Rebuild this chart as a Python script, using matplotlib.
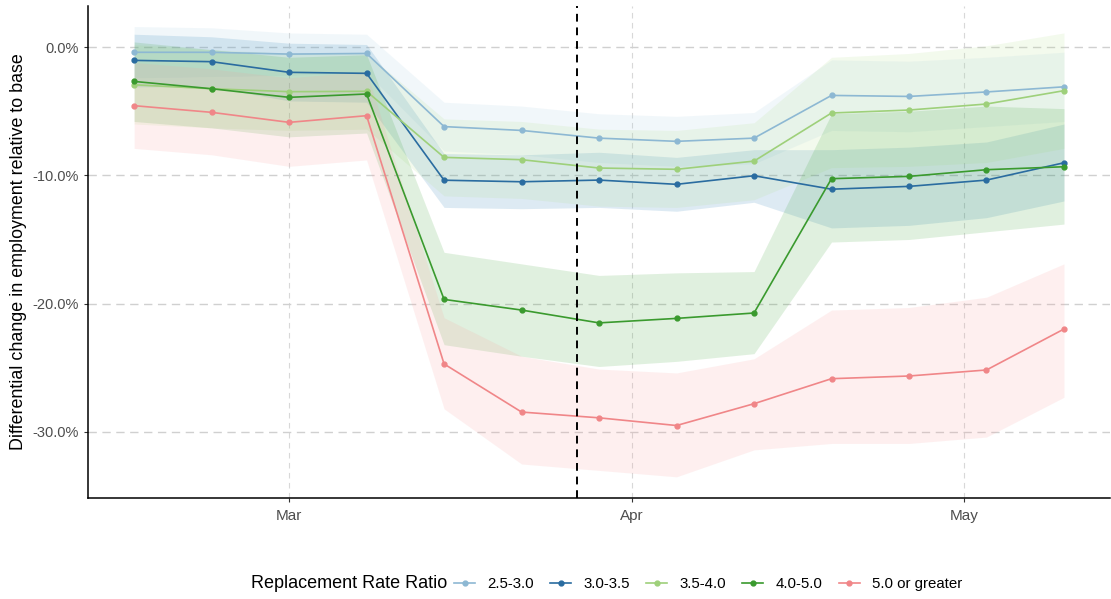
import matplotlib
matplotlib.use("Agg")
import matplotlib.pyplot as plt
import matplotlib.dates as mdates
import numpy as np
import pandas as pd
from matplotlib.lines import Line2D

plt.rcParams["font.family"] = ["Liberation Sans", "DejaVu Sans"]

weeks = pd.to_datetime([
    "2020-02-16", "2020-02-23", "2020-03-01", "2020-03-08", "2020-03-15",
    "2020-03-22", "2020-03-29", "2020-04-05", "2020-04-12", "2020-04-19",
    "2020-04-26", "2020-05-03", "2020-05-10",
])
cares_act = pd.Timestamp("2020-03-27")

groups = ["2.5-3.0", "3.0-3.5", "3.5-4.0", "4.0-5.0", "5.0 or greater"]

# point estimates (%)
est_25 = [-0.41, -0.41, -0.55, -0.50, -6.2, -6.5, -7.1, -7.35, -7.1, -3.77, -3.85, -3.5, -3.1]
est_30 = [-1.04, -1.14, -1.97, -2.05, -10.38, -10.5, -10.37, -10.7, -10.03, -11.08, -10.86, -10.37, -9.02]
est_35 = [-2.94, -3.25, -3.48, -3.45, -8.6, -8.78, -9.43, -9.53, -8.89, -5.14, -4.91, -4.44, -3.4]
est_40 = [-2.68, -3.25, -3.92, -3.66, -19.67, -20.5, -21.5, -21.15, -20.73, -10.26, -10.08, -9.56, -9.33]
est_50 = [-4.57, -5.09, -5.87, -5.35, -24.7, -28.45, -28.9, -29.5, -27.8, -25.85, -25.64, -25.17, -21.98]

# confidence bands (%)
hi_25 = [1.6, 1.5, 1.1, 1.0, -4.3, -4.6, -5.2, -5.4, -5.1, -1.0, -1.1, -0.8, -0.4]
lo_25 = [-2.4, -2.3, -2.2, -2.0, -8.1, -8.4, -9.0, -9.3, -9.1, -6.5, -6.6, -6.2, -5.8]
hi_30 = [1.0, 0.8, 0.3, 0.2, -8.3, -8.4, -8.2, -8.6, -8.0, -8.0, -7.8, -7.4, -6.0]
lo_30 = [-3.1, -3.1, -4.2, -4.3, -12.5, -12.6, -12.5, -12.8, -12.1, -14.1, -13.9, -13.3, -12.0]
hi_35 = [0.2, -0.2, -0.5, -0.5, -5.6, -5.8, -6.4, -6.5, -5.9, -0.8, -0.5, 0.1, 1.1]
lo_35 = [-6.0, -6.3, -6.5, -6.4, -11.6, -11.8, -12.4, -12.5, -11.9, -9.4, -9.3, -9.0, -7.9]
hi_40 = [0.4, -0.2, -0.8, -0.6, -16.0, -16.9, -17.8, -17.6, -17.5, -5.2, -5.0, -4.6, -4.8]
lo_40 = [-5.8, -6.3, -7.0, -6.7, -23.2, -24.1, -24.9, -24.5, -23.9, -15.2, -15.0, -14.4, -13.8]
hi_50 = [-1.2, -1.7, -2.4, -1.9, -21.1, -24.1, -25.1, -25.4, -24.3, -20.5, -20.3, -19.5, -16.9]
lo_50 = [-7.9, -8.4, -9.3, -8.8, -28.2, -32.5, -33.0, -33.5, -31.4, -30.9, -30.9, -30.4, -27.3]

estimates = [est_25, est_30, est_35, est_40, est_50]
uppers = [hi_25, hi_30, hi_35, hi_40, hi_50]
lowers = [lo_25, lo_30, lo_35, lo_40, lo_50]

line_colors = ["#8DB8D3", "#2A6CA0", "#9ED07A", "#3A9A2E", "#F08688"]
fill_colors = ["#A6CEE3", "#1F78B4", "#B2DF8A", "#33A02C", "#FB9A99"]

fig = plt.figure(figsize=(11.11, 5.99), dpi=100)
ax = fig.add_axes([0.0792, 0.1686, 0.92, 0.8214])

for lo, hi, fc in zip(lowers, uppers, fill_colors):
    ax.fill_between(weeks, lo, hi, color=fc, alpha=0.15, linewidth=0)

for est, lc in zip(estimates, line_colors):
    ax.plot(weeks, est, color=lc, linewidth=1.2, marker="o", markersize=3.5)

ax.axvline(cares_act, color="black", linestyle=(0, (4, 3)), linewidth=1.4)

ax.set_xlim(pd.Timestamp("2020-02-11 20:00"), pd.Timestamp("2020-05-14 04:00"))
ax.set_ylim(-35.15, 3.2)

ax.xaxis.set_major_locator(mdates.MonthLocator(bymonthday=1))
ax.xaxis.set_major_formatter(mdates.DateFormatter("%b"))
ax.set_yticks([0, -10, -20, -30])
ax.set_yticklabels(["0.0%", "-10.0%", "-20.0%", "-30.0%"])

ax.grid(True, axis="y", color="#D0D0D0", linestyle=(0, (6, 4)), linewidth=1.0)
ax.grid(True, axis="x", color="#D8D8D8", linestyle=(0, (5, 4)), linewidth=0.8)
ax.set_axisbelow(True)

for side in ["top", "right"]:
    ax.spines[side].set_visible(False)
for side in ["left", "bottom"]:
    ax.spines[side].set_linewidth(1.1)
    ax.spines[side].set_color("black")

ax.tick_params(axis="both", colors="#333333", labelcolor="#4D4D4D", labelsize=10.5, length=3, width=0.8)
ax.tick_params(axis="x", labelsize=11, pad=5)
ax.set_ylabel("Differential change in employment relative to base", fontsize=12.9, color="black", labelpad=4)

handles = [Line2D([0], [0], color=lc, linewidth=1.2, marker="o", markersize=3.5) for lc in line_colors]
fig.text(251 / 1111, 1 - 584 / 599, "Replacement Rate Ratio", fontsize=13, ha="left", va="center")
fig.legend(handles, groups, loc="center left", bbox_to_anchor=(454 / 1111, 1 - 584 / 599),
           ncol=5, frameon=False, fontsize=10.8, handlelength=1.4, handletextpad=0.8,
           columnspacing=1.1, borderpad=0, borderaxespad=0)

fig.savefig("out.png", dpi=100)
